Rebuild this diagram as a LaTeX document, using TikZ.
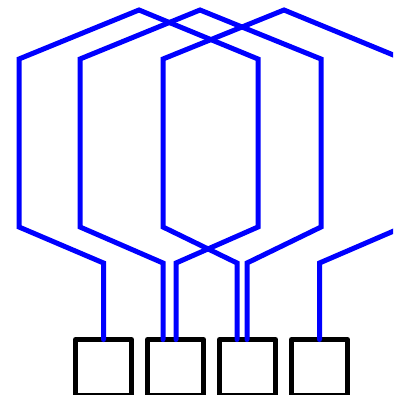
\documentclass[tikz,border=0pt]{standalone}
\usepackage{tikz}
\usetikzlibrary{positioning, calc}

\begin{document}
\begin{tikzpicture}[x=1pt, y=-1pt, node distance=16pt,
    box/.style={draw=black, line width=5pt, line join=round, minimum size=56pt, inner sep=0pt, outer sep=0pt},
    wire/.style={draw=blue, line width=5pt, line cap=round}]

    % Rahmen
    \useasboundingbox (0,0) rectangle (393,395);
    \clip (0,0) rectangle (393,395);

    % Hoehen der Knicke
    \def\ya{10}
    \def\yt{59}
    \def\yc{227}
    \def\yb{263}

    % Kaestchen
    \node[box] (s1) at (103.5,367.5) {};
    \node[box, right=of s1] (s2) {};
    \node[box, right=of s2] (s3) {};
    \node[box, right=of s3] (s4) {};

    % Schleife 1 (s1 -> s2)
    \draw[wire] (s1.north) -- (s1.north |- 0,\yb) -- (19,\yc) -- (19,\yt) -- (139,\ya)
        -- (258,\yt) -- (258,\yc) -- ([xshift=0.5pt]s2.north |- 0,\yb) -- ([xshift=0.5pt]s2.north);

    % Schleife 2 (s2 -> s3)
    \draw[wire] ([xshift=-12.5pt]s2.north) -- ([xshift=-12.5pt]s2.north |- 0,\yb) -- (80,\yc) -- (80,\yt) -- (200,\ya)
        -- (321,\yt) -- (321,\yc) -- ([xshift=-0.5pt]s3.north |- 0,\yb) -- ([xshift=-0.5pt]s3.north);

    % Schleife 3 (s3 -> s4), rechts abgeschnitten
    \draw[wire] ([xshift=-10.5pt]s3.north) -- ([xshift=-10.5pt]s3.north |- 0,\yb) -- (163,\yc) -- (163,\yt) -- (284,\ya)
        -- (403,\yt) -- (403,\yc) -- (s4.north |- 0,\yb) -- (s4.north);

\end{tikzpicture}
\end{document}
